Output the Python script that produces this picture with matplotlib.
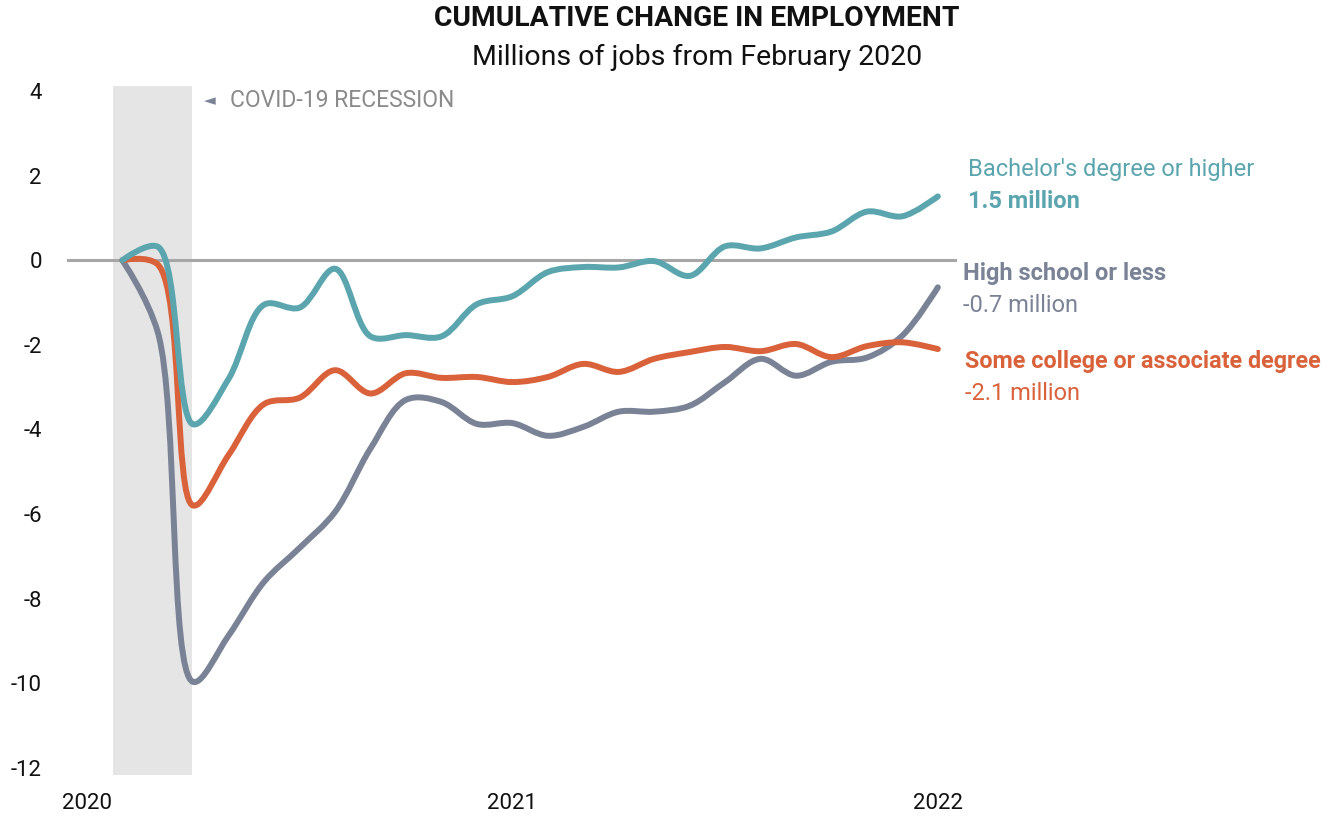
import matplotlib
matplotlib.use("Agg")
import matplotlib.pyplot as plt
from matplotlib.path import Path
from matplotlib.patches import PathPatch
import numpy as np

plt.rcParams['font.family'] = ['Roboto', 'DejaVu Sans']

# Months: Feb 2020 .. Jan 2022 (index: Jan 2020 = 0)
months = list(range(1, 25))
bachelor = [0, 0.32, -3.88, -2.8, -1.05, -1.12, -0.2, -1.8, -1.77, -1.8, -1.04, -0.85,
            -0.28, -0.16, -0.17, -0.02, -0.37, 0.33, 0.28, 0.54, 0.68, 1.15, 1.04, 1.51]
highschool = [0, -1.7, -9.97, -8.87, -7.6, -6.8, -5.95, -4.45, -3.3, -3.35, -3.87, -3.85,
              -4.15, -3.94, -3.58, -3.58, -3.44, -2.88, -2.33, -2.73, -2.4, -2.3, -1.78, -0.64]
somecollege = [0, -0.1, -5.8, -4.6, -3.4, -3.25, -2.6, -3.15, -2.67, -2.78, -2.76, -2.88,
               -2.76, -2.45, -2.64, -2.33, -2.17, -2.05, -2.15, -1.98, -2.29, -2.03, -1.94, -2.1]
year_ticks = [0, 12, 24]
year_labels = ["2020", "2021", "2022"]
y_ticks = [-12, -10, -8, -6, -4, -2, 0, 2, 4]

C_TEAL = "#5BA5AE"
C_GRAY = "#7A8396"
C_ORANGE = "#D9623B"


def smooth_path(ax, x, y, alpha=0.5):
    """Centripetal Catmull-Rom spline (computed in display space) as Bezier segments."""
    tr = ax.transData
    P = tr.transform(np.column_stack([x, y]).astype(float))
    n = len(P)
    eps = 1e-12
    verts = [P[0]]
    codes = [Path.MOVETO]
    for i in range(n - 1):
        p0 = P[i - 1] if i > 0 else None
        p1 = P[i]
        p2 = P[i + 1]
        p3 = P[i + 2] if i + 2 < n else None
        l12 = np.linalg.norm(p2 - p1)
        l12_a, l12_2a = l12 ** alpha, l12 ** (2 * alpha)
        c1 = p1.copy()
        if p0 is not None:
            l01 = np.linalg.norm(p1 - p0)
            l01_a, l01_2a = l01 ** alpha, l01 ** (2 * alpha)
            if l01_a > eps:
                a = 2 * l01_2a + 3 * l01_a * l12_a + l12_2a
                nn = 3 * l01_a * (l01_a + l12_a)
                c1 = (p1 * a - p0 * l12_2a + p2 * l01_2a) / nn
        c2 = p2.copy()
        if p3 is not None:
            l23 = np.linalg.norm(p3 - p2)
            l23_a, l23_2a = l23 ** alpha, l23 ** (2 * alpha)
            if l23_a > eps:
                b = 2 * l23_2a + 3 * l23_a * l12_a + l12_2a
                m = 3 * l23_a * (l23_a + l12_a)
                c2 = (p2 * b + p1 * l23_2a - p3 * l12_2a) / m
        verts += [c1, c2, p2]
        codes += [Path.CURVE4] * 3
    verts = tr.inverted().transform(np.array(verts))
    return Path(verts, codes)


fig = plt.figure(figsize=(13.41, 8.18), dpi=100)
ax = fig.add_axes([67 / 1341, 43 / 818, 890 / 1341, 689 / 818])
ax.set_xlim(-0.56, 24.54)
ax.set_ylim(-12.17, 4.12)

# recession shading
ax.axvspan(0.73, 2.96, color="#E5E5E5", lw=0, zorder=0)
ax.axhline(0, color="#A6A6A6", lw=2.2, zorder=1)

for series, col in [(highschool, C_GRAY), (somecollege, C_ORANGE), (bachelor, C_TEAL)]:
    patch = PathPatch(smooth_path(ax, months, series), facecolor="none", edgecolor=col,
                      lw=4.3, capstyle="round", joinstyle="round", zorder=3)
    ax.add_patch(patch)

for s in ax.spines.values():
    s.set_visible(False)
ax.set_xticks(year_ticks)
ax.set_xticklabels(year_labels)
ax.set_yticks(y_ticks)
ax.set_yticklabels([str(v) for v in y_ticks])
ax.tick_params(axis="y", length=0, pad=18, labelsize=16, labelcolor="#111111")
ax.tick_params(axis="x", length=0, pad=13, labelsize=16, labelcolor="#111111")

# recession annotation
ax.text(3.3, 3.78, "\u25c4", color="#7A8396", fontsize=11, va="center", ha="left",
        family=["DejaVu Sans"])
ax.text(4.03, 3.78, "COVID-19 RECESSION", color="#8A8A8A", fontsize=16.5, va="center", ha="left")

# end labels
ax.text(24.85, 2.15, "Bachelor's degree or higher", color=C_TEAL, fontsize=17,
        va="center", ha="left", clip_on=False)
ax.text(24.85, 1.39, "1.5 million", color=C_TEAL, fontsize=17, fontweight="bold",
        va="center", ha="left", clip_on=False)
ax.text(24.71, -0.31, "High school or less", color=C_GRAY, fontsize=17, fontweight="bold",
        va="center", ha="left", clip_on=False)
ax.text(24.71, -1.06, "-0.7 million", color=C_GRAY, fontsize=17,
        va="center", ha="left", clip_on=False)
ax.text(24.77, -2.39, "Some college or associate degree", color=C_ORANGE, fontsize=16.8,
        fontweight="bold", va="center", ha="left", clip_on=False)
ax.text(24.77, -3.14, "-2.1 million", color=C_ORANGE, fontsize=17,
        va="center", ha="left", clip_on=False)

fig.text(697 / 1341, 1 - 19 / 818, "CUMULATIVE CHANGE IN EMPLOYMENT", ha="center", va="center",
         fontsize=20.3, fontweight="bold", color="#111111")
fig.text(697 / 1341, 1 - 57 / 818, "Millions of jobs from February 2020", ha="center", va="center",
         fontsize=20.5, color="#111111")

fig.savefig("out.png", dpi=100)
